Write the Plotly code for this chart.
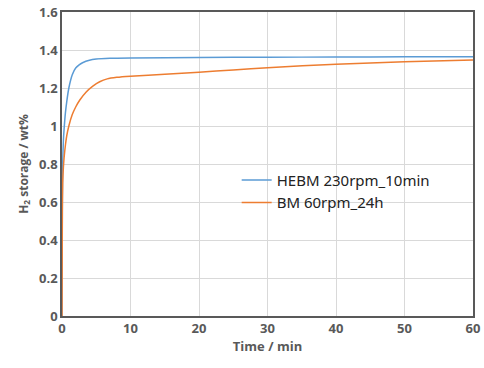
import plotly.graph_objects as go

t_hebm = [0, 0.05, 0.1, 0.2, 0.3, 0.5, 0.7, 1.0, 1.5, 2.0, 2.5, 3.0, 4.0, 5.0, 7.0, 10, 20, 30, 40, 50, 60]
v_hebm = [0, 0.6, 0.8, 0.92, 0.98, 1.07, 1.13, 1.2, 1.27, 1.305, 1.322, 1.333, 1.346, 1.352, 1.356, 1.358, 1.361, 1.362, 1.363, 1.364, 1.365]

t_bm = [0, 0.05, 0.1, 0.2, 0.3, 0.5, 0.7, 1.0, 1.5, 2.0, 2.6, 3.5, 4.5, 5.5, 6.6, 8, 10, 15, 20, 25, 30, 40, 50, 60]
v_bm = [0, 0.55, 0.7, 0.78, 0.83, 0.9, 0.95, 1.0, 1.06, 1.1, 1.137, 1.178, 1.21, 1.233, 1.248, 1.256, 1.262, 1.272, 1.283, 1.295, 1.307, 1.325, 1.338, 1.348]

names = ["HEBM 230rpm_10min", "BM 60rpm_24h"]
colors = ["#5B9BD5", "#ED7D31"]

fig = go.Figure()
fig.add_trace(go.Scatter(x=t_hebm, y=v_hebm, mode="lines", name=names[0],
                         line=dict(color=colors[0], width=1.5, shape="spline", smoothing=0.6)))
fig.add_trace(go.Scatter(x=t_bm, y=v_bm, mode="lines", name=names[1],
                         line=dict(color=colors[1], width=1.5, shape="spline", smoothing=0.6)))

tickfont = dict(family="Open Sans, DejaVu Sans, sans-serif", size=13, color="#595959", weight="bold")
fig.update_layout(
    width=484, height=368,
    margin=dict(l=62, r=11, t=12, b=52, autoexpand=False),
    paper_bgcolor="white", plot_bgcolor="white",
    showlegend=True,
    legend=dict(x=0.425, y=0.41, xanchor="left", yanchor="middle",
                bgcolor="rgba(255,255,255,0)",
                font=dict(family="Noto Sans, DejaVu Sans, sans-serif", size=15, color="#222222"),
                tracegroupgap=0, itemwidth=30),
    xaxis=dict(range=[0, 60], dtick=10, showgrid=True, gridcolor="#D9D9D9", gridwidth=1,
               showline=True, linecolor="#595959", linewidth=1.5, mirror=True,
               ticks="", tickfont=tickfont, zeroline=False,
               title=dict(text="Time / min", font=dict(family="Open Sans, DejaVu Sans, sans-serif", size=13, color="#595959", weight="bold"), standoff=6)),
    yaxis=dict(range=[0, 1.6], dtick=0.2, showgrid=True, gridcolor="#D9D9D9", gridwidth=1,
               showline=True, linecolor="#595959", linewidth=1.5, mirror=True,
               ticks="", tickfont=tickfont, zeroline=False,
               tickvals=[0, 0.2, 0.4, 0.6, 0.8, 1.0, 1.2, 1.4, 1.6],
               ticktext=["0", "0.2", "0.4", "0.6", "0.8", "1", "1.2", "1.4", "1.6"],
               title=dict(text="H<sub>2</sub> storage / wt%", font=dict(family="Open Sans, DejaVu Sans, sans-serif", size=12, color="#595959", weight="bold"), standoff=8)),
)

fig.write_html("out.html")
